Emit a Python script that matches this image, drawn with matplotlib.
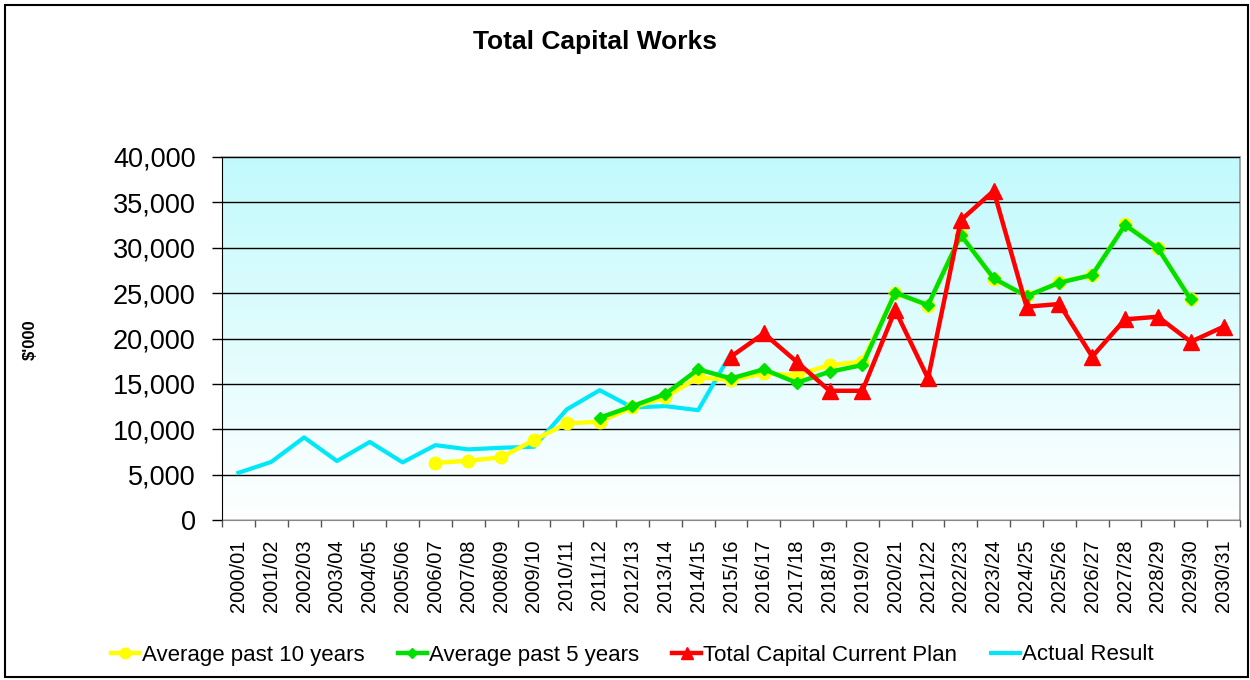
import numpy as np
import matplotlib
matplotlib.use("Agg")
import matplotlib.pyplot as plt
from matplotlib.patches import Rectangle
from matplotlib.ticker import FuncFormatter, MultipleLocator

plt.rcParams['font.family'] = ['Liberation Sans', 'DejaVu Sans']

years = ["2000/01", "2001/02", "2002/03", "2003/04", "2004/05", "2005/06", "2006/07",
         "2007/08", "2008/09", "2009/10", "2010/11", "2011/12", "2012/13", "2013/14",
         "2014/15", "2015/16", "2016/17", "2017/18", "2018/19", "2019/20", "2020/21",
         "2021/22", "2022/23", "2023/24", "2024/25", "2025/26", "2026/27", "2027/28",
         "2028/29", "2029/30", "2030/31"]

nan = np.nan
avg10 = [nan, nan, nan, nan, nan, nan, 6300, 6530, 6900, 8800, 10650, 10830, 12400, 13520,
         15720, 15420, 16150, 15970, 17070, 17440, 25050, 23600, 31450, 26550, 24650,
         26200, 27000, 32600, 29950, 24300, nan]
avg5 = [nan, nan, nan, nan, nan, nan, nan, nan, nan, nan, nan, 11270, 12550, 13880,
        16600, 15600, 16600, 15120, 16330, 17070, 25040, 23680, 31390, 26630, 24670,
        26150, 27000, 32510, 29940, 24300, nan]
plan = [nan, nan, nan, nan, nan, nan, nan, nan, nan, nan, nan, nan, nan, nan, nan,
        18000, 20560, 17440, 14240, 14240, 23130, 15600, 33040, 36270, 23500, 23800,
        18000, 22110, 22400, 19640, 21300]
actual = [5200, 6400, 9100, 6500, 8600, 6350, 8250, 7780, 7960, 8070, 12190, 14300,
          12400, 12550, 12100, 18350, nan, nan, nan, nan, nan, nan, nan, nan, nan, nan,
          nan, nan, nan, nan, nan]

fig = plt.figure(figsize=(12.5, 6.8), dpi=100)
ax = fig.add_axes([222/1250, 1 - 520/680, (1240-222)/1250, (520-157)/680])

x = np.arange(len(years))
ax.set_xlim(-0.5, len(years) - 0.5)
ax.set_ylim(0, 40000)

# gradient background
grad = np.linspace(0, 1, 256).reshape(-1, 1)
top = np.array([0.76, 0.98, 0.99])
bot = np.array([1.0, 1.0, 1.0])
img = bot + (top - bot) * grad
ax.imshow(img.reshape(256, 1, 3), extent=[-0.5, len(years) - 0.5, 0, 40000],
          origin='lower', aspect='auto', zorder=0)

ax.yaxis.set_major_locator(MultipleLocator(5000))
ax.yaxis.grid(True, color='black', linewidth=1.0, zorder=1)
ax.set_axisbelow(False)

ax.plot(x, actual, color='#00e8f8', linewidth=3.0, zorder=3, label='Actual Result')
ax.plot(x, avg10, color='#ffff00', linewidth=3.2, marker='o', markersize=9,
        zorder=4, label='Average past 10 years')
ax.plot(x, avg5, color='#00e000', linewidth=3.2, marker='D', markersize=6.5,
        zorder=5, label='Average past 5 years')
ax.plot(x, plan, color='#ff0000', linewidth=3.2, marker='^', markersize=11,
        zorder=6, label='Total Capital Current Plan')

ax.yaxis.set_major_formatter(FuncFormatter(lambda v, p: f"{int(v):,}"))
ax.tick_params(axis='y', labelsize=19.5, length=7, width=1, direction='out', pad=12)

ax.set_xticks(x)
ax.set_xticklabels(years, rotation=90, fontsize=14.5)
ax.set_xticks(np.arange(-0.5, len(years)), minor=True)
ax.tick_params(axis='x', which='major', length=0, pad=14)
ax.tick_params(axis='x', which='minor', length=5, width=1, color='#555555')

for s in ['top', 'right']:
    ax.spines[s].set_color('#999999')
    ax.spines[s].set_linewidth(1.2)
ax.spines['left'].set_color('black')
ax.spines['bottom'].set_color('#888888')

fig.text(30/1250, 1 - 340/680, "$'000", rotation=90, fontsize=12, fontweight='bold',
         ha='center', va='center')
fig.text(595/1250, 1 - 42/680, "Total Capital Works", fontsize=19, fontweight='bold',
         ha='center', va='center')

h, l = ax.get_legend_handles_labels()
order = [1, 2, 3, 0]
fig.legend([h[i] for i in order], [l[i] for i in order], loc='center',
           bbox_to_anchor=(632/1250, 1 - 655/680), ncol=4, frameon=False, fontsize=16,
           handlelength=1.3, handletextpad=0.1, columnspacing=1.5, markerscale=0.85)

fig.add_artist(Rectangle((0.004, 0.004), 0.994, 0.988, transform=fig.transFigure,
                         fill=False, edgecolor='black', linewidth=1.5))

fig.savefig("out.png", dpi=100)
